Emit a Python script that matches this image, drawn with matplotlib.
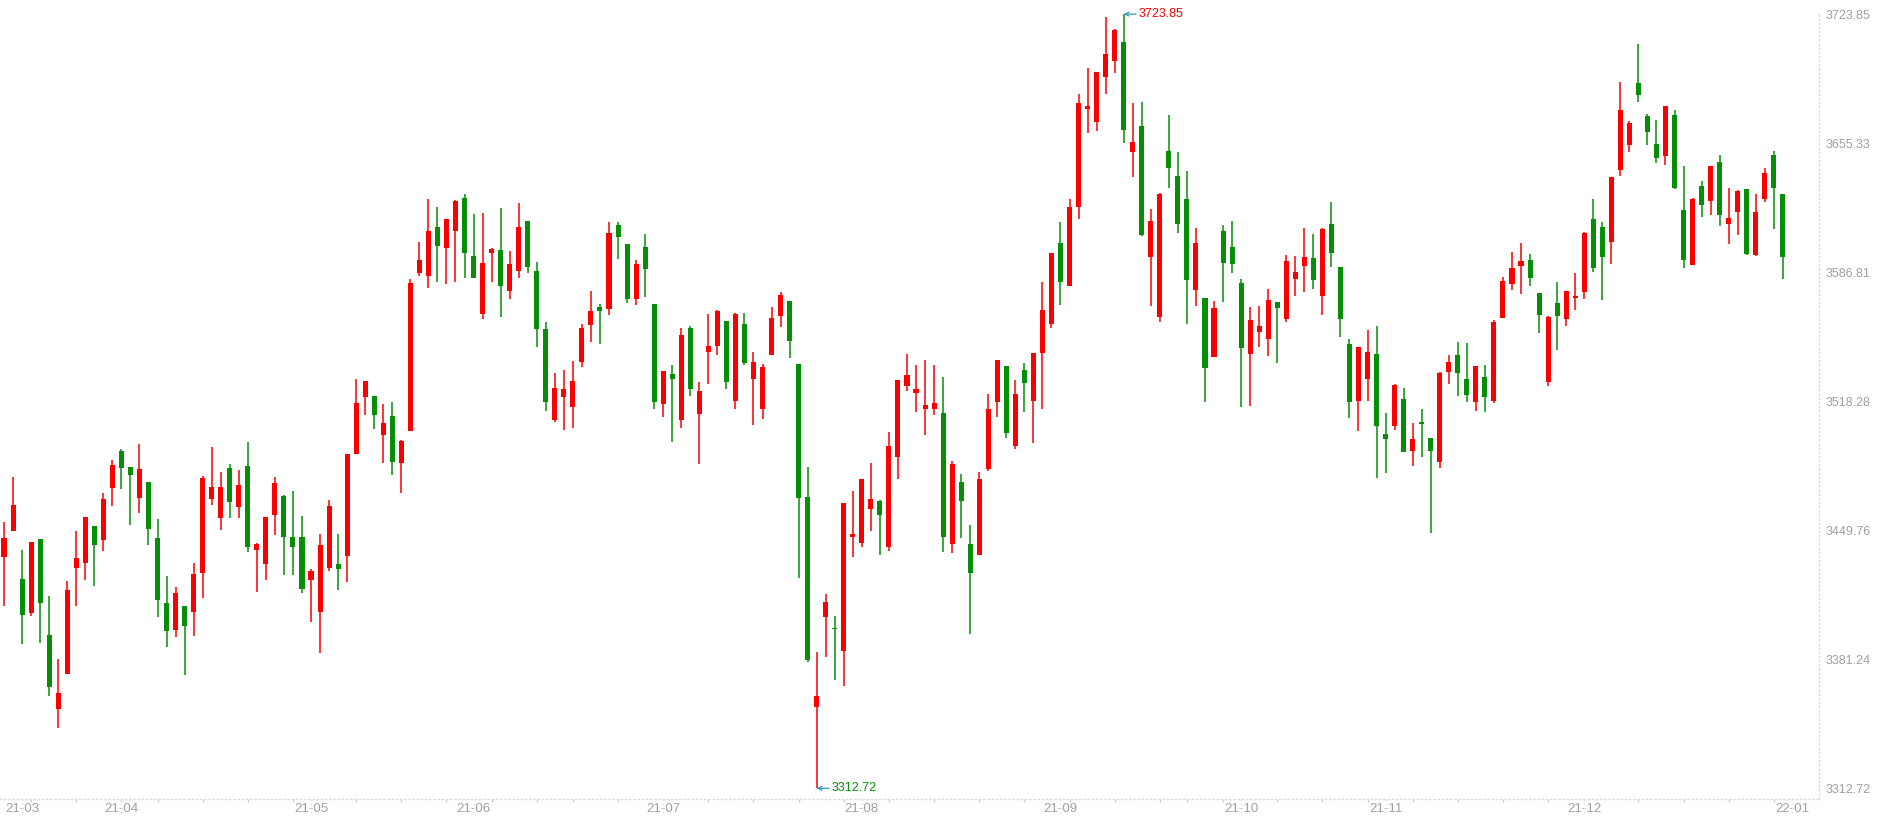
import numpy as np
import matplotlib
matplotlib.use("Agg")
import matplotlib.pyplot as plt
import matplotlib.transforms as mtransforms

plt.rcParams['font.family'] = ['Liberation Sans', 'DejaVu Sans']

# daily candles, 2021-03-17 .. 2022-01-05
opens = [
    3435.3, 3449.2, 3424.0, 3405.7, 3445.3, 3394.1, 3354.6, 3373.4, 3429.5, 3432.3,
    3451.9, 3444.5, 3472.4, 3491.8, 3483.5, 3467.1, 3475.4, 3445.6, 3411.3, 3396.6,
    3409.6, 3406.6, 3427.3, 3466.6, 3456.1, 3482.9, 3461.9, 3484.0, 3439.5, 3431.7,
    3457.7, 3468.0, 3446.1, 3446.1, 3423.2, 3406.3, 3429.5, 3432.0, 3435.9, 3490.1,
    3520.3, 3521.1, 3500.6, 3510.6, 3485.7, 3502.3, 3586.6, 3585.0, 3610.7, 3599.4,
    3608.5, 3626.2, 3595.5, 3564.8, 3596.9, 3598.5, 3576.7, 3587.2, 3614.0, 3587.5,
    3556.8, 3508.1, 3520.3, 3515.0, 3539.3, 3559.0, 3568.4, 3567.0, 3611.8, 3601.9,
    3572.3, 3600.2, 3570.0, 3516.7, 3532.7, 3508.1, 3557.0, 3511.7, 3544.6, 3547.4,
    3560.9, 3518.6, 3559.3, 3529.9, 3514.4, 3542.7, 3563.4, 3571.4, 3538.0, 3467.4,
    3355.7, 3403.5, 3397.7, 3385.5, 3446.4, 3442.8, 3461.3, 3465.2, 3441.1, 3488.4,
    3526.6, 3522.5, 3513.9, 3513.9, 3512.0, 3442.3, 3475.4, 3442.5, 3436.4, 3482.1,
    3517.8, 3537.1, 3494.3, 3534.9, 3518.6, 3543.8, 3559.5, 3602.4, 3579.7, 3621.2,
    3673.2, 3666.3, 3690.6, 3698.7, 3709.2, 3650.8, 3664.4, 3594.7, 3563.1, 3651.1,
    3637.8, 3625.6, 3577.5, 3573.1, 3541.6, 3608.8, 3600.2, 3581.1, 3543.2, 3554.8,
    3551.5, 3570.9, 3561.8, 3583.0, 3589.9, 3594.4, 3573.9, 3612.4, 3589.7, 3548.7,
    3518.6, 3529.9, 3543.5, 3500.9, 3505.3, 3519.7, 3491.8, 3506.7, 3498.7, 3486.2,
    3533.6, 3542.9, 3530.2, 3518.1, 3531.0, 3518.6, 3562.3, 3580.3, 3589.9, 3593.3,
    3575.8, 3528.3, 3570.3, 3561.8, 3573.1, 3576.1, 3615.1, 3610.7, 3602.7, 3640.9,
    3654.1, 3687.0, 3669.6, 3655.0, 3648.3, 3670.2, 3619.8, 3590.8, 3632.6, 3624.8,
    3645.3, 3612.6, 3619.0, 3630.9, 3596.1, 3625.6, 3649.2, 3628.4,
]
highs = [
    3453.9, 3477.9, 3439.2, 3443.6, 3445.3, 3415.1, 3381.4, 3422.9, 3449.4, 3456.9,
    3451.9, 3469.6, 3487.3, 3493.1, 3483.5, 3495.4, 3475.4, 3455.8, 3425.4, 3419.8,
    3409.6, 3432.3, 3478.8, 3493.7, 3480.7, 3484.8, 3481.8, 3496.7, 3443.1, 3456.9,
    3477.9, 3468.5, 3470.7, 3457.5, 3429.3, 3447.5, 3465.8, 3447.5, 3490.4, 3530.2,
    3529.1, 3521.1, 3516.9, 3517.8, 3497.8, 3583.3, 3603.0, 3625.6, 3621.5, 3615.1,
    3625.1, 3628.4, 3617.9, 3618.2, 3599.6, 3620.9, 3598.0, 3623.4, 3614.0, 3592.2,
    3560.4, 3533.3, 3534.9, 3539.6, 3559.3, 3577.0, 3570.0, 3613.5, 3613.5, 3601.9,
    3593.3, 3607.1, 3570.0, 3534.4, 3537.4, 3557.0, 3558.1, 3528.6, 3564.5, 3566.7,
    3560.9, 3565.1, 3565.1, 3544.3, 3538.0, 3568.4, 3576.1, 3571.4, 3538.0, 3483.5,
    3385.3, 3416.0, 3404.4, 3464.4, 3470.5, 3477.1, 3485.7, 3465.8, 3502.0, 3529.7,
    3543.5, 3537.4, 3539.9, 3537.4, 3531.3, 3486.5, 3479.6, 3452.5, 3480.7, 3522.2,
    3540.4, 3537.1, 3529.7, 3538.5, 3544.0, 3581.7, 3596.9, 3613.5, 3625.6, 3681.5,
    3695.1, 3693.1, 3722.2, 3715.8, 3723.85, 3676.5, 3677.1, 3620.4, 3629.0, 3670.4,
    3650.5, 3640.3, 3610.4, 3573.1, 3571.7, 3611.8, 3614.0, 3583.3, 3568.4, 3568.9,
    3577.8, 3570.9, 3596.0, 3595.5, 3610.1, 3607.1, 3610.1, 3624.0, 3589.7, 3551.2,
    3547.1, 3556.2, 3558.1, 3512.0, 3527.5, 3525.2, 3506.7, 3514.2, 3498.7, 3533.6,
    3542.9, 3549.9, 3549.3, 3537.1, 3537.4, 3561.5, 3584.2, 3597.4, 3602.1, 3596.6,
    3575.8, 3563.4, 3581.7, 3577.0, 3586.6, 3608.0, 3625.9, 3613.5, 3637.3, 3687.9,
    3667.1, 3708.1, 3670.7, 3667.7, 3675.2, 3672.9, 3643.1, 3626.2, 3635.3, 3643.1,
    3648.9, 3631.7, 3630.4, 3630.9, 3628.4, 3642.3, 3651.1, 3628.4,
]
lows = [
    3409.6, 3449.2, 3389.1, 3404.1, 3389.7, 3362.0, 3344.6, 3373.4, 3409.3, 3423.2,
    3420.4, 3438.7, 3462.4, 3471.6, 3452.8, 3458.8, 3441.7, 3403.5, 3387.5, 3393.0,
    3372.8, 3393.8, 3414.0, 3463.0, 3449.7, 3456.1, 3456.1, 3438.1, 3416.8, 3423.2,
    3447.0, 3426.2, 3426.2, 3416.3, 3401.3, 3384.4, 3427.9, 3417.9, 3422.1, 3490.1,
    3510.8, 3503.4, 3485.7, 3479.3, 3469.4, 3502.3, 3585.0, 3578.6, 3581.7, 3580.3,
    3581.4, 3583.9, 3583.9, 3561.7, 3581.4, 3562.9, 3572.3, 3583.6, 3586.6, 3546.8,
    3513.3, 3507.0, 3502.8, 3503.9, 3536.3, 3549.6, 3548.5, 3564.2, 3593.6, 3570.3,
    3569.2, 3573.4, 3513.9, 3510.0, 3496.5, 3503.9, 3520.8, 3484.8, 3527.2, 3542.7,
    3525.0, 3513.9, 3537.4, 3505.9, 3508.6, 3542.7, 3557.9, 3541.0, 3424.3, 3380.0,
    3312.72, 3382.2, 3370.1, 3367.3, 3435.3, 3440.6, 3449.2, 3436.4, 3438.7, 3476.8,
    3523.6, 3512.8, 3500.6, 3510.8, 3438.1, 3437.6, 3445.6, 3394.4, 3436.4, 3481.0,
    3509.7, 3499.0, 3493.1, 3512.8, 3495.9, 3514.4, 3557.3, 3569.2, 3579.7, 3614.9,
    3660.5, 3661.6, 3681.2, 3692.3, 3655.2, 3637.5, 3606.0, 3568.7, 3560.4, 3631.7,
    3607.4, 3559.5, 3568.7, 3517.8, 3541.6, 3571.1, 3586.1, 3515.0, 3515.6, 3546.8,
    3542.1, 3538.8, 3560.1, 3573.9, 3576.1, 3578.1, 3564.0, 3589.4, 3552.6, 3509.2,
    3502.3, 3518.6, 3477.4, 3479.9, 3502.8, 3491.2, 3483.7, 3488.4, 3448.1, 3482.6,
    3527.2, 3520.8, 3517.8, 3513.3, 3512.8, 3517.2, 3562.3, 3577.3, 3575.0, 3579.2,
    3554.3, 3526.1, 3545.7, 3558.1, 3566.5, 3572.8, 3586.7, 3572.0, 3591.3, 3638.1,
    3650.8, 3677.4, 3654.1, 3645.0, 3643.9, 3631.2, 3588.9, 3590.8, 3616.0, 3617.4,
    3611.5, 3601.9, 3606.8, 3595.8, 3595.5, 3624.3, 3609.6, 3583.0,
]
closes = [
    3445.6, 3463.3, 3404.6, 3443.6, 3411.0, 3366.7, 3363.4, 3418.2, 3435.1, 3456.9,
    3441.7, 3466.3, 3484.6, 3482.6, 3479.3, 3482.4, 3450.3, 3412.7, 3396.1, 3416.5,
    3398.8, 3426.5, 3477.7, 3472.7, 3472.7, 3464.7, 3473.8, 3440.6, 3442.3, 3456.9,
    3474.9, 3446.4, 3441.1, 3418.5, 3428.1, 3442.0, 3462.7, 3429.0, 3490.4, 3517.5,
    3529.1, 3510.8, 3506.7, 3486.2, 3497.3, 3581.1, 3593.3, 3608.8, 3600.5, 3615.1,
    3624.5, 3596.9, 3583.9, 3591.6, 3599.1, 3579.7, 3591.1, 3610.7, 3589.4, 3556.5,
    3518.0, 3525.2, 3524.7, 3529.1, 3557.0, 3566.2, 3566.4, 3607.7, 3605.7, 3572.8,
    3591.1, 3588.3, 3518.0, 3534.4, 3529.9, 3553.4, 3525.0, 3523.8, 3547.6, 3566.2,
    3528.3, 3564.5, 3538.8, 3539.1, 3536.6, 3562.6, 3574.7, 3550.1, 3467.1, 3380.6,
    3361.8, 3411.8, 3397.2, 3464.4, 3447.8, 3477.1, 3466.3, 3457.7, 3494.5, 3529.7,
    3532.1, 3524.7, 3516.4, 3517.5, 3446.4, 3484.8, 3465.2, 3426.8, 3477.1, 3514.2,
    3540.4, 3501.2, 3522.2, 3527.7, 3544.0, 3566.7, 3596.9, 3581.4, 3621.5, 3676.5,
    3674.9, 3693.1, 3702.5, 3715.3, 3662.1, 3655.8, 3606.6, 3614.0, 3628.4, 3642.0,
    3612.6, 3582.5, 3602.4, 3535.7, 3567.8, 3591.9, 3591.3, 3546.3, 3561.5, 3558.1,
    3572.0, 3567.6, 3592.7, 3586.9, 3594.9, 3582.5, 3609.6, 3597.1, 3561.8, 3518.0,
    3547.1, 3544.3, 3505.3, 3498.1, 3526.9, 3491.2, 3498.1, 3506.2, 3492.1, 3533.0,
    3539.1, 3533.0, 3521.4, 3537.1, 3520.3, 3560.4, 3582.2, 3589.1, 3592.7, 3583.9,
    3564.0, 3562.9, 3563.4, 3577.0, 3573.7, 3607.4, 3588.9, 3594.7, 3637.3, 3672.9,
    3666.0, 3680.7, 3661.0, 3647.2, 3675.2, 3631.7, 3593.0, 3625.4, 3622.3, 3643.1,
    3617.4, 3615.7, 3629.8, 3596.6, 3618.7, 3639.5, 3631.7, 3594.7,
]

month_labels = ['21-03', '21-04', '21-05', '21-06', '21-07', '21-08',
                '21-09', '21-10', '21-11', '21-12', '22-01']
month_pos = [2, 13, 34, 52, 73, 95, 117, 137, 153, 175, 198]
week_pos = [3, 8, 13, 17, 22, 27, 32, 39, 44, 49, 54, 59, 63, 68, 78, 83, 88,
            93, 98, 103, 108, 113, 118, 123, 128, 131, 135, 141, 146, 151, 156,
            161, 166, 171, 181, 186, 191, 196]
price_ticks = [3312.72, 3381.24, 3449.76, 3518.28, 3586.81, 3655.33, 3723.85]

UP = '#fa0000'
DOWN = '#078e07'
AXIS_GREY = '#dcdcdc'
LABEL_GREY = '#a0a0a0'

o = np.array(opens)
h = np.array(highs)
l = np.array(lows)
c = np.array(closes)
x = np.arange(len(o))
colors = np.where(c >= o, UP, DOWN)

fig = plt.figure(figsize=(18.81, 8.17), dpi=100)
ax = fig.add_axes([0.0, 0.0217, 0.96704, 0.96106])

ax.vlines(x, l, h, colors=colors, linewidth=1.1, zorder=2)
body_h = np.maximum(np.abs(c - o), 0.8)
ax.bar(x, body_h, bottom=np.minimum(o, c), width=0.56, color=colors,
       linewidth=0, zorder=3)

ax.set_xlim(-0.443, 201.0)
ax.set_ylim(3306.9, 3723.85)

# max / min markers
hi = int(np.argmax(h))
lo = int(np.argmin(l))
for idx, val, col in [(hi, h[hi], UP), (lo, l[lo], DOWN)]:
    ax.annotate('%.2f' % val, xy=(idx, val), xytext=(15, 0),
                textcoords='offset pixels', ha='left', va='center',
                fontsize=9, color=col, zorder=5, annotation_clip=False,
                arrowprops=dict(arrowstyle='->', color='#3497bd', lw=0.9,
                                shrinkA=0, shrinkB=0, mutation_scale=7))

# axes styling
for s in ['top', 'left']:
    ax.spines[s].set_visible(False)
for s in ['bottom', 'right']:
    ax.spines[s].set_color(AXIS_GREY)
    ax.spines[s].set_linestyle((0, (1, 2)))
    ax.spines[s].set_linewidth(1.0)

ax.yaxis.tick_right()
ax.set_yticks(price_ticks)
ax.set_yticklabels(['%.2f' % v for v in price_ticks])
ax.tick_params(axis='y', length=0, pad=4.5, labelsize=9, labelcolor=LABEL_GREY)

ax.set_xticks(month_pos)
ax.set_xticklabels(month_labels)
ax.tick_params(axis='x', length=0, pad=2.5, labelsize=9.5, labelcolor=LABEL_GREY)

trans = ax.get_xaxis_transform()
ax.vlines(week_pos, -0.004, 0.0, transform=trans, colors='#cfcfcf',
          linewidth=1.0, clip_on=False)
ax.vlines(month_pos, -0.018, 0.0, transform=trans, colors='#e2e2e2',
          linewidth=1.0, linestyles=(0, (1, 2)), clip_on=False)

fig.savefig('out.png', dpi=100, facecolor='white')
